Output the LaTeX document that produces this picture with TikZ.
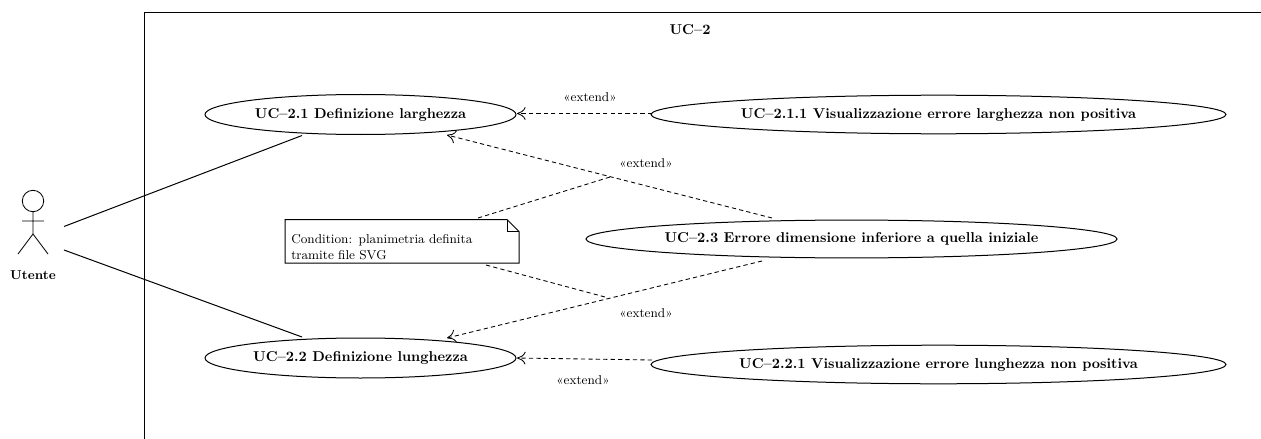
\documentclass[tikz,border=0pt]{standalone}
\usetikzlibrary{arrows.meta,calc,shapes.geometric}
\tikzset{
 x=0.7pt,y=-0.7pt,
 usecase/.style={draw,ellipse,line width=0.7pt,font=\bfseries,inner sep=0pt,anchor=center},
 lab/.style={font=\small,inner sep=0pt},
 assoc/.style={line width=0.7pt},
 ext/.style={line width=0.6pt,dash pattern=on 3pt off 2.2pt,-{To[length=6pt,width=9pt,line width=0.6pt]}},
 extline/.style={line width=0.6pt,dash pattern=on 3pt off 2.2pt},
}
\begin{document}
\begin{tikzpicture}
\useasboundingbox (0,0) rectangle (1261,439);
\draw[line width=0.7pt] (144,439) coordinate (bl) -- (144,13) coordinate (tl) -- (1261,13) coordinate (tr);
\node[font=\bfseries,inner sep=0pt] (title) at (690,30) {UC--2};
% use cases
\node[usecase,minimum width=217.7pt,minimum height=28pt] (a) at (360.5,114.5) {UC--2.1 Definizione larghezza};
\node[usecase,minimum width=402.5pt,minimum height=27pt] (b) at (938.5,114.5) {UC--2.1.1 Visualizzazione errore larghezza non positiva};
\node[usecase,minimum width=371.7pt,minimum height=26.5pt] (c) at (851.5,239) {UC--2.3 Errore dimensione inferiore a quella iniziale};
\node[usecase,minimum width=217.7pt,minimum height=28pt] (d) at (360.5,358) {UC--2.2 Definizione lunghezza};
\node[usecase,minimum width=402.5pt,minimum height=27pt] (e) at (938.5,364.5) {UC--2.2.1 Visualizzazione errore lunghezza non positiva};
% actor
\coordinate (head) at (33,201);
\draw[line width=0.6pt] (head) circle (7.5pt);
\draw[line width=0.6pt] (33,212) -- (33,234) (22,221) -- (44,221) (18,254) -- (33,234) -- (48,254);
\node[font=\small\bfseries,inner sep=0pt] (actor) at (33,275) {Utente};
% note
\coordinate (n1) at (285,219.5);
\coordinate (n2) at (507,219.5);
\coordinate (n3) at (519,231.5);
\coordinate (n4) at (519,263);
\coordinate (n5) at (285,263);
\draw[line width=0.7pt,fill=white] (n1) -- (n2) -- (n3) -- (n4) -- (n5) -- cycle;
\draw[line width=0.6pt] (n2) |- (n3);
\node[lab,align=left,anchor=west,font=\small,text width=170pt] (note) at (291,247) {\baselineskip=11pt Condition: planimetria definita\\tramite file SVG};
% connectors
\coordinate (act1) at (64,226.5);
\coordinate (act2) at (64,250);
\coordinate (a1) at (302,135.5);
\coordinate (d1) at (302,337);
\draw[assoc] (act1) -- (a1);
\draw[assoc] (act2) -- (d1);
\coordinate (bw) at (652,113.5);
\coordinate (ae) at (517,113.5);
\draw[ext] (bw) -- (ae);
\coordinate (ew) at (652,360);
\coordinate (de) at (517,358);
\draw[ext] (ew) -- (de);
\coordinate (ct) at (772,218);
\coordinate (cb) at (762,261);
\coordinate (ab) at (447,135);
\coordinate (dt) at (447,338);
\draw[ext] (ct) -- (ab);
\draw[ext] (cb) -- (dt);
\coordinate (m1) at (610,177);
\coordinate (m2) at (605,297);
\coordinate (nt) at (478,218);
\coordinate (nb) at (486,265);
\draw[extline] (nt) -- (m1);
\draw[extline] (nb) -- (m2);
% labels
\node[lab] (l1) at (590,97) {«extend»};
\node[lab] (l2) at (646,163) {«extend»};
\node[lab] (l3) at (646,313) {«extend»};
\node[lab] (l4) at (583,380) {«extend»};
\end{tikzpicture}
\end{document}
